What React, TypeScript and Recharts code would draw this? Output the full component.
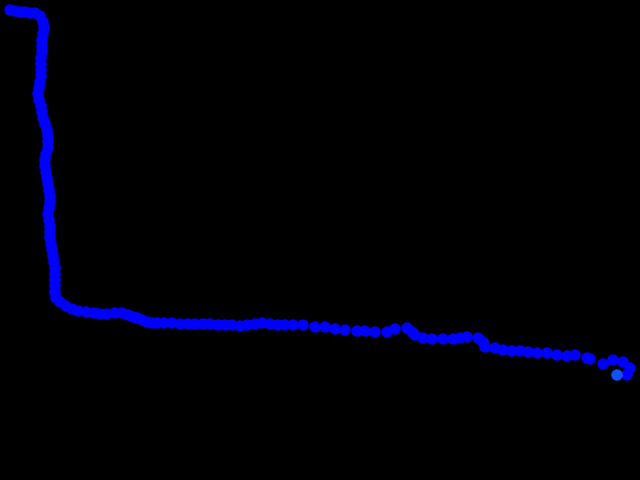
import { ScatterChart, Scatter, XAxis, YAxis } from 'recharts';

// track positions (x grows right, y grows downward)
const trackX = [
    10, 15, 20, 25, 30, 35, 40, 43, 44, 43, 42, 42, 42, 41, 41, 41, 41, 40, 39, 38,
    39, 41, 42, 43, 45, 47, 48, 48, 48, 46, 45, 45, 46, 47, 48, 49, 50, 50, 49, 48,
    49, 50, 50, 50, 51, 52, 53, 54, 55, 55, 55, 55, 55, 56, 60, 66, 72, 78, 86, 94,
    100, 107, 115, 122, 128, 133, 137, 142, 147, 152, 157, 164, 172, 180, 188, 195, 203, 210, 218, 225,
    232, 240, 247, 255, 262, 270, 278, 285, 293, 303, 315, 325, 335, 345, 357, 365, 375, 387, 395, 407,
    412, 415, 423, 432, 443, 453, 460, 467, 478, 483, 485, 495, 503, 512, 520, 528, 537, 547, 557, 567,
    575, 587, 590, 603, 613, 623, 630, 627,
];
const trackY = [
    10, 11, 12, 12, 13, 13, 16, 22, 28, 34, 40, 46, 52, 58, 64, 70, 76, 82, 88, 94,
    100, 106, 112, 118, 124, 130, 136, 142, 148, 154, 160, 166, 172, 178, 184, 190, 196, 202, 208, 214,
    220, 226, 232, 238, 244, 250, 256, 262, 268, 274, 280, 286, 292, 298, 302, 306, 309, 311, 312, 313,
    314, 314, 313, 313, 315, 317, 318, 320, 322, 323, 323, 323, 323, 324, 324, 324, 324, 324, 325, 325,
    325, 326, 325, 324, 323, 324, 325, 325, 325, 325, 327, 327, 329, 330, 331, 331, 332, 332, 329, 328,
    332, 335, 338, 339, 339, 339, 338, 337, 338, 342, 347, 348, 350, 351, 351, 352, 353, 353, 355, 356,
    355, 358, 359, 364, 360, 362, 368, 375,
];
const currentX = [617];
const currentY = [375];

const track = trackX.map((x, i) => ({ x, y: trackY[i] }));
const current = currentX.map((x, i) => ({ x, y: currentY[i] }));

const dot = (color: string) => (props: any) => (
    <circle cx={props.cx} cy={props.cy} r={5.8} fill={color} />
);

export default function App() {
    return (
        <div style={{ position: 'fixed', left: 0, top: 0, width: 640, height: 480, background: '#000' }}>
            <ScatterChart width={640} height={480} margin={{ top: 0, right: 0, bottom: 0, left: 0 }}>
                <XAxis type="number" dataKey="x" domain={[0, 640]} hide />
                <YAxis type="number" dataKey="y" domain={[0, 480]} reversed hide />
                <Scatter data={track} shape={dot('#0000ff')} isAnimationActive={false} />
                <Scatter data={current} shape={dot('#1050ff')} isAnimationActive={false} />
            </ScatterChart>
        </div>
    );
}
